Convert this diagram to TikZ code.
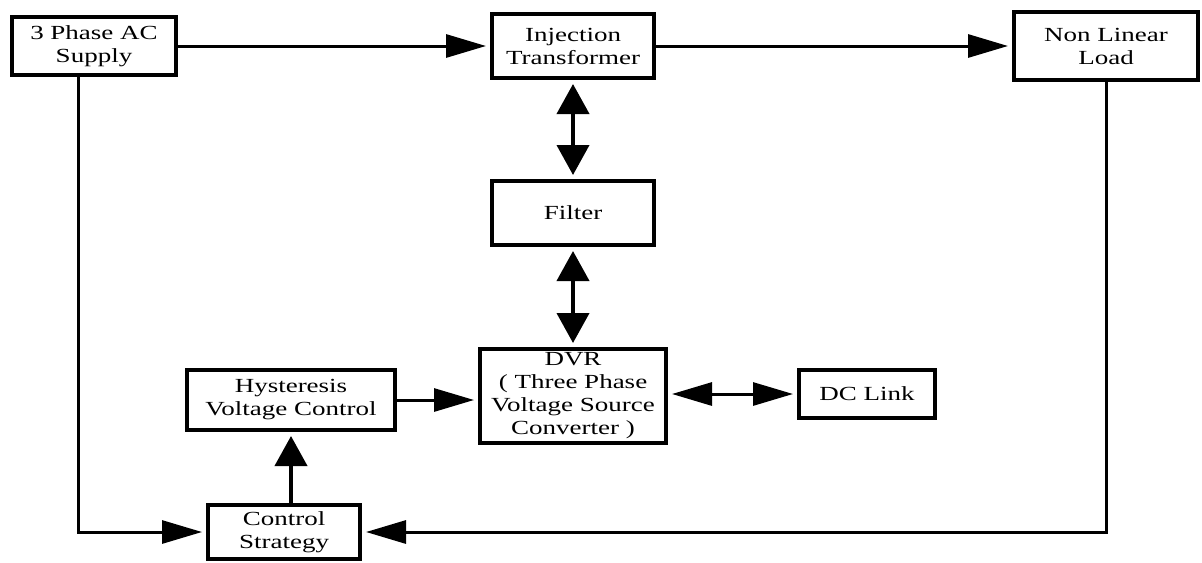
\documentclass[tikz,border=0pt]{standalone}
\usepackage{fontspec}
\setmainfont[FakeStretch=1.35]{Liberation Serif}
\usetikzlibrary{arrows.meta}

\tikzset{
  block/.style={draw, line width=2pt, inner sep=0pt, align=center, font=\fontsize{10}{11.5}\selectfont},
  harrow/.style={line width=1.5pt, >={Triangle[length=20pt,width=11.5pt]}, shorten >=2pt},
  varrow/.style={line width=2pt, >={Triangle[length=15pt,width=16pt]}, shorten >=2pt},
}

\begin{document}
\begin{tikzpicture}[x=0.5pt,y=-0.5pt]
            \useasboundingbox (0,0) rectangle (1202,562);
            \node[block,minimum width=82pt,minimum height=29pt] (supply) at (94,46) {3 Phase AC\\Supply};
            \node[block,minimum width=81pt,minimum height=32pt] (inj) at (573,46) {Injection\\Transformer};
            \node[block,minimum width=92pt,minimum height=34pt] (load) at (1106,46) {Non Linear\\Load};
            \node[block,minimum width=81pt,minimum height=32pt] (filter) at (573,213) {Filter};
            \node[block,minimum width=93pt,minimum height=47pt] (dvr) at (573,396) {DVR\\( Three Phase\\Voltage Source\\Converter )};
            \node[block,minimum width=104pt,minimum height=30pt] (hyst) at (291,400) {Hysteresis\\Voltage Control};
            \node[block,minimum width=68pt,minimum height=24pt] (dclink) at (867,394) {DC Link};
            \node[block,minimum width=76pt,minimum height=27pt] (ctrl) at (284,532) {Control\\Strategy};
            \coordinate (sdown) at (78,532);
            \coordinate (ldown) at (load.south |- ctrl);
            \draw[harrow,->] (supply) -- (inj);
            \draw[harrow,->] (inj) -- (load);
            \draw[varrow,<->,shorten <=2pt] (inj) -- (filter);
            \draw[varrow,<->,shorten <=2pt] (filter) -- (dvr);
            \draw[harrow,->] (hyst.east) -- (hyst.east -| dvr.west);
            \draw[harrow,<->,shorten <=2pt] (dvr.east |- dclink) -- (dclink.west);
            \draw[varrow,->] (ctrl.north -| hyst) -- (hyst.south);
            \draw[harrow,->] (supply.south -| sdown) -- (sdown) -- (ctrl.west);
            \draw[harrow,->] (load.south) -- (ldown) -- (ctrl.east);
        \end{tikzpicture}
\end{document}
